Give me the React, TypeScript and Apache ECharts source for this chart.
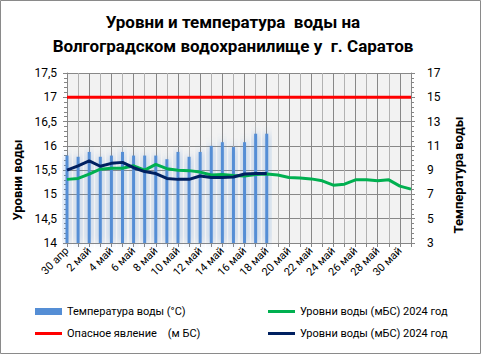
import React, { useEffect, useRef } from 'react';
import * as echarts from 'echarts';

const categories = [
  '30 апр', '1 май', '2 май', '3 май', '4 май', '5 май', '6 май', '7 май', '8 май', '9 май',
  '10 май', '11 май', '12 май', '13 май', '14 май', '15 май', '16 май', '17 май', '18 май', '19 май',
  '20 май', '21 май', '22 май', '23 май', '24 май', '25 май', '26 май', '27 май', '28 май', '29 май',
  '30 май', '31 май',
];

// water temperature, °C (right axis)
const temperature = [
  10.2, 10.1, 10.5, 10.1, 10.2, 10.5, 10.2, 10.2, 10.2, 9.9,
  10.5, 10.1, 10.5, 11.0, 11.3, 10.9, 11.3, 12.0, 12.0,
];

// water levels 2024 (green), m BS
const levelGreen = [
  15.31, 15.33, 15.42, 15.52, 15.54, 15.54, 15.59, 15.5, 15.62, 15.53,
  15.5, 15.49, 15.46, 15.4, 15.41, 15.39, 15.38, 15.41, 15.42, 15.4,
  15.35, 15.34, 15.32, 15.28, 15.19, 15.21, 15.3, 15.3, 15.28, 15.3,
  15.17, 15.11,
];

// water levels 2024 (dark blue), m BS
const levelNavy = [
  15.5, 15.59, 15.69, 15.58, 15.64, 15.66, 15.55, 15.47, 15.43, 15.33,
  15.31, 15.31, 15.38, 15.35, 15.35, 15.36, 15.42, 15.43, 15.43,
];

const dangerLevel = 17;

const titleLines = ['Уровни и температура  воды на', 'Волгоградском водохранилище у  г. Саратов'];
const legendLabels: Record<string, string> = {
  temp: 'Температура воды (°C)',
  danger: 'Опасное явление    (м БС)',
  green: 'Уровни воды (мБС) 2024 год',
  navy: 'Уровни воды (мБС) 2024 год',
};

const FONT = 'Roboto, "Noto Sans", sans-serif';
const AXIS_COLOR = '#868686';

export default function App() {
  const ref = useRef<HTMLDivElement>(null);

  useEffect(() => {
    document.body.style.margin = '0';
    if (!ref.current) return;
    const chart = echarts.init(ref.current, undefined, { renderer: 'svg' });

    const legendBase = {
      orient: 'horizontal' as const,
      itemWidth: 27,
      itemGap: 0,
      selectedMode: false,
      formatter: (n: string) => legendLabels[n],
      textStyle: { fontSize: 11, fontFamily: FONT, color: '#000' },
      padding: 0,
    };

    chart.setOption({
      animation: false,
      backgroundColor: '#ffffff',
      textStyle: { fontFamily: FONT },
      graphic: [
        {
          type: 'rect',
          shape: { x: 0.5, y: 0.5, width: 480, height: 353 },
          style: { fill: 'none', stroke: '#8a8a8a', lineWidth: 1 },
          silent: true,
        },
        {
          type: 'text',
          x: 233,
          y: 22,
          style: {
            text: titleLines[0],
            font: `bold 17px ${FONT}`,
            fill: '#000',
            textAlign: 'center',
            textVerticalAlign: 'middle',
          },
        },
        {
          type: 'text',
          x: 233,
          y: 46,
          style: {
            text: titleLines[1],
            font: `bold 17px ${FONT}`,
            fill: '#000',
            textAlign: 'center',
            textVerticalAlign: 'middle',
          },
        },
        {
          type: 'text',
          x: 17,
          y: 180,
          rotation: Math.PI / 2,
          style: {
            text: 'Уровни воды',
            font: `bold 13px ${FONT}`,
            fill: '#000',
            textAlign: 'center',
            textVerticalAlign: 'middle',
          },
        },
        {
          type: 'text',
          x: 458,
          y: 175,
          rotation: Math.PI / 2,
          style: {
            text: 'Температура воды',
            font: `bold 13px ${FONT}`,
            fill: '#000',
            textAlign: 'center',
            textVerticalAlign: 'middle',
          },
        },
      ],
      legend: [
        { ...legendBase, left: 35, top: 306, itemHeight: 7, data: [{ name: 'temp', icon: 'rect' }] },
        { ...legendBase, left: 35, top: 328, itemHeight: 3, data: [{ name: 'danger', icon: 'rect' }] },
        { ...legendBase, left: 268, top: 306, itemHeight: 3, data: [{ name: 'green', icon: 'rect' }] },
        { ...legendBase, left: 268, top: 328, itemHeight: 3, data: [{ name: 'navy', icon: 'rect' }] },
      ],
      grid: {
        left: 67,
        right: 70,
        top: 73,
        bottom: 111,
        show: true,
        backgroundColor: '#f2f2f2',
        borderWidth: 0,
      },
      xAxis: {
        type: 'category',
        data: categories,
        boundaryGap: false,
        axisLine: { lineStyle: { color: AXIS_COLOR } },
        axisTick: { show: true, interval: 0, length: 4, lineStyle: { color: AXIS_COLOR } },
        axisLabel: {
          interval: 1,
          rotate: 45,
          fontSize: 11,
          color: '#000',
          fontFamily: FONT,
          margin: 6,
        },
        splitLine: {
          show: true,
          interval: 0,
          lineStyle: { color: ['#878787', '#b2b2b2'], width: 1 },
        },
      },
      yAxis: [
        {
          type: 'value',
          min: 14,
          max: 17.5,
          interval: 0.5,
          position: 'left',
          axisLine: { show: true, lineStyle: { color: AXIS_COLOR } },
          axisTick: { show: true, length: 4, lineStyle: { color: AXIS_COLOR } },
          minorTick: { show: true, splitNumber: 5, length: 3, lineStyle: { color: AXIS_COLOR } },
          axisLabel: {
            fontSize: 12,
            color: '#000',
            fontFamily: FONT,
            margin: 10,
            formatter: (v: number) => String(v).replace('.', ','),
          },
          splitLine: { show: true, lineStyle: { color: '#888888', width: 1 } },
        },
        {
          type: 'value',
          min: 3,
          max: 17,
          interval: 2,
          position: 'right',
          axisLine: { show: true, lineStyle: { color: AXIS_COLOR } },
          axisTick: { show: true, length: 4, lineStyle: { color: AXIS_COLOR } },
          minorTick: { show: true, splitNumber: 5, length: 3, lineStyle: { color: AXIS_COLOR } },
          axisLabel: { fontSize: 12, color: '#000', fontFamily: FONT, margin: 16 },
          splitLine: { show: false },
        },
      ],
      series: [
        {
          name: 'temp',
          type: 'bar',
          yAxisIndex: 1,
          data: temperature,
          barWidth: 3,
          z: 1,
          itemStyle: {
            color: '#558ed5',
            shadowBlur: 8,
            shadowColor: 'rgba(85,142,213,0.8)',
          },
        },
        {
          name: 'danger',
          type: 'line',
          yAxisIndex: 0,
          data: categories.map(() => dangerLevel),
          symbol: 'none',
          z: 3,
          itemStyle: { color: '#ff0000' },
          lineStyle: { color: '#ff0000', width: 3 },
        },
        {
          name: 'green',
          type: 'line',
          yAxisIndex: 0,
          data: levelGreen,
          symbol: 'none',
          z: 4,
          itemStyle: { color: '#00b050' },
          lineStyle: { color: '#00b050', width: 3 },
        },
        {
          name: 'navy',
          type: 'line',
          yAxisIndex: 0,
          data: levelNavy,
          symbol: 'none',
          z: 5,
          itemStyle: { color: '#002060' },
          lineStyle: { color: '#002060', width: 3 },
        },
      ],
    });

    return () => chart.dispose();
  }, []);

  return <div ref={ref} style={{ width: 481, height: 354 }} />;
}
